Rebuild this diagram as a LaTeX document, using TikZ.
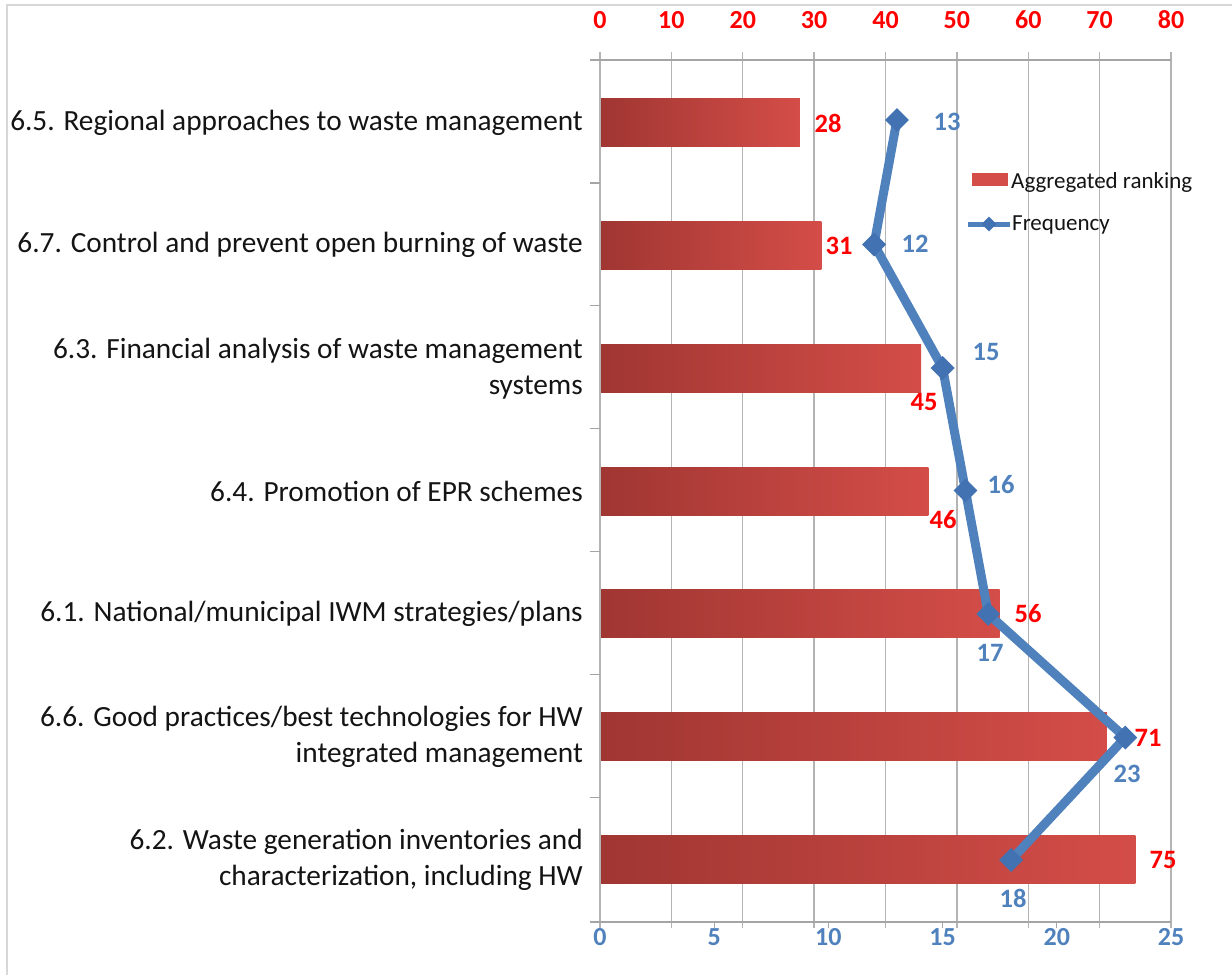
\documentclass[tikz,border=0pt]{standalone}
\usepackage{fontspec}
\setmainfont{Carlito}
\usetikzlibrary{shapes.geometric}
\definecolor{barL}{RGB}{160,54,50}
\definecolor{barR}{RGB}{212,77,72}
\definecolor{freq}{RGB}{79,129,189}
\definecolor{freqd}{RGB}{66,114,178}
\definecolor{gridc}{RGB}{180,180,180}
\definecolor{axisc}{RGB}{165,165,165}
\definecolor{framec}{RGB}{215,215,215}
\definecolor{txt}{RGB}{20,20,20}
\tikzset{
  catlabel/.style={anchor=east, align=right, text=txt, inner sep=0pt, font=\fontsize{29.3}{36}\selectfont},
  toplabel/.style={text=red, font=\bfseries\fontsize{26}{28}\selectfont, inner sep=0pt},
  botlabel/.style={text=freq, font=\bfseries\fontsize{26}{28}\selectfont, inner sep=0pt},
  barval/.style={text=red, font=\bfseries\fontsize{26.5}{28}\selectfont, inner sep=0pt},
  freqval/.style={text=freq, font=\bfseries\fontsize{26.5}{28}\selectfont, inner sep=0pt},
  bar/.style={left color=barL, right color=barR},
  mk/.style={diamond, fill=freqd, minimum size=24pt, inner sep=0pt},
  legtext/.style={anchor=west, text=txt, inner sep=0pt, font=\fontsize{23}{26}\selectfont},
}
\begin{document}
\begin{tikzpicture}[x=1pt,y=-1pt]
\useasboundingbox (0,0) rectangle (1232,975);
\fill[white] (0,0) rectangle (1232,975);
% frame
\draw[framec, line width=2pt] (7,975) -- (7,5) -- (1232,5);
% grid
\foreach \i in {0,...,8} \draw[gridc, line width=1.3pt] ({600+\i*71.375},52) -- ({600+\i*71.375},928);
\draw[axisc, line width=1.6pt] (590,60) -- (1171,60);
\draw[axisc, line width=1.6pt] (590,922) -- (1171,922);
\foreach \v in {5,10,15,20} \draw[axisc, line width=1.3pt] ({600+\v*22.84},922) -- ({600+\v*22.84},928);
\foreach \k in {1,...,6} \draw[axisc, line width=1.3pt] (590,{60+\k*122.86}) -- (600,{60+\k*122.86});
% axis labels
\foreach \v in {0,10,...,80} \node[toplabel] (t\v) at ({600+\v*7.1375},20) {\v};
\foreach \v in {0,5,...,25} \node[botlabel] (b\v) at ({600+\v*22.84},937) {\v};
% category labels
\node[catlabel] (c1) at (583,122.4) {6.5. Regional approaches to waste management};
\node[catlabel] (c2) at (583,245.3) {6.7. Control and prevent open burning of waste};
\node[catlabel] (c3) at (583,368.2) {6.3. Financial analysis of waste management\\systems};
\node[catlabel] (c4) at (583,491) {6.4. Promotion of EPR schemes};
\node[catlabel] (c5) at (583,613.9) {6.1. National/municipal IWM strategies/plans};
\node[catlabel] (c6) at (583,736.7) {6.6. Good practices/best technologies for HW\\integrated management};
\node[catlabel] (c7) at (583,859.6) {6.2. Waste generation inventories and\\characterization, including HW};
% bars
\shade[bar] (601,98.4) rectangle ({600+28*7.1375},146.4);
\shade[bar] (601,221.3) rectangle ({600+31*7.1375},269.3);
\shade[bar] (601,344.2) rectangle ({600+45*7.1375},392.2);
\shade[bar] (601,467) rectangle ({600+46*7.1375},515);
\shade[bar] (601,589.9) rectangle ({600+56*7.1375},637.9);
\shade[bar] (601,712.7) rectangle ({600+71*7.1375},760.7);
\shade[bar] (601,835.6) rectangle ({600+75*7.1375},883.6);
% frequency line
\coordinate (f1) at ({600+13*22.84},120);
\coordinate (f2) at ({600+12*22.84},244.5);
\coordinate (f3) at ({600+15*22.84},368);
\coordinate (f4) at ({600+16*22.84},490.5);
\coordinate (f5) at ({600+17*22.84},614);
\coordinate (f6) at ({600+23*22.84},737.5);
\coordinate (f7) at ({600+18*22.84},860);
\draw[freq, line width=9pt, line join=round] (f1) -- (f2) -- (f3) -- (f4) -- (f5) -- (f6) -- (f7);
\foreach \p in {1,...,7} \node[mk] (m\p) at (f\p) {};
% value labels
\node[barval] (v1) at (828,123) {28};
\node[barval] (v2) at (839,246) {31};
\node[barval] (v3) at (924,402) {45};
\node[barval] (v4) at (943,520) {46};
\node[barval] (v5) at (1028,614) {56};
\node[barval] (v6) at (1148,738) {71};
\node[barval] (v7) at (1163,860) {75};
\node[freqval] (w1) at (947,122) {13};
\node[freqval] (w2) at (915,244) {12};
\node[freqval] (w3) at (986,352) {15};
\node[freqval] (w4) at (1001,485) {16};
\node[freqval] (w5) at (990,653) {17};
\node[freqval] (w6) at (1127,774) {23};
\node[freqval] (w7) at (1013,898) {18};
% legend
\fill[barR] (972,173) rectangle (1008,186);
\coordinate (la) at (968,224);
\coordinate (lb) at (1010,224);
\draw[freq, line width=5pt] (la) -- (lb);
\node[diamond, fill=freqd, minimum size=15pt, inner sep=0pt] (lm) at (989,224) {};
\node[legtext] (l1) at (1011,182) {Aggregated ranking};
\node[legtext] (l2) at (1012,225) {Frequency};
\end{tikzpicture}
\end{document}
